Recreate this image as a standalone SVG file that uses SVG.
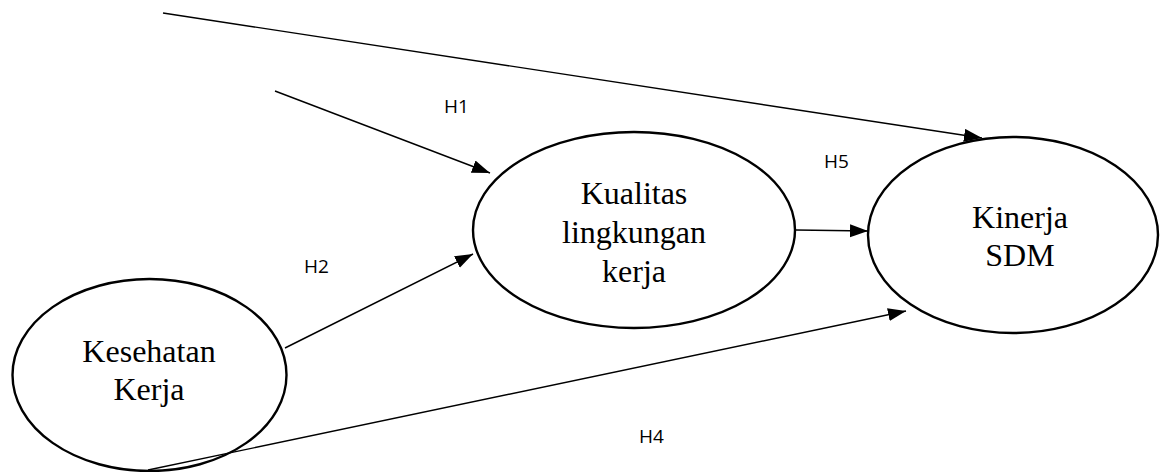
<svg xmlns="http://www.w3.org/2000/svg" width="1170" height="472" viewBox="0 0 1170 472">
<style>
.node ellipse{fill:none;stroke:#000;stroke-width:2.4}
.node text{font-family:"Liberation Serif","Times New Roman",serif;font-size:32px;fill:#000;text-anchor:middle}
.lbl{font-family:"Open Sans","Liberation Sans",sans-serif;font-size:19px;fill:#000}
#connectors line{stroke:#000;stroke-width:1.4;marker-end:url(#arrow)}
</style>
<defs>
<marker id="arrow" markerUnits="userSpaceOnUse" markerWidth="18" markerHeight="14" refX="18" refY="6.5" orient="auto">
<path d="M0,0 L18,6.5 L0,13 z" fill="#000"/>
</marker>
</defs>
<rect width="1170" height="472" fill="#fff"/>
<g id="connectors">
<line x1="163" y1="13" x2="982" y2="138"/>
<line x1="275" y1="91" x2="490" y2="173"/>
<line x1="285" y1="348" x2="473" y2="254"/>
<line x1="796" y1="230" x2="868" y2="231"/>
<line x1="148" y1="470" x2="906" y2="311"/>
</g>
<g id="node-kesehatan" class="node">
<ellipse cx="149.5" cy="375" rx="137" ry="96"/>
<text x="149" y="362">Kesehatan</text>
<text x="149" y="400">Kerja</text>
</g>
<g id="node-kualitas" class="node">
<ellipse cx="634" cy="230" rx="161" ry="98"/>
<text x="634" y="204">Kualitas</text>
<text x="634" y="243">lingkungan</text>
<text x="634" y="282">kerja</text>
</g>
<g id="node-kinerja" class="node">
<ellipse cx="1013" cy="235" rx="145" ry="98"/>
<text x="1020" y="228">Kinerja</text>
<text x="1020" y="266">SDM</text>
</g>
<g id="labels">
<text class="lbl" x="444" y="113">H1</text>
<text class="lbl" x="824" y="168">H5</text>
<text class="lbl" x="304" y="273">H2</text>
<text class="lbl" x="639" y="443">H4</text>
</g>
</svg>
